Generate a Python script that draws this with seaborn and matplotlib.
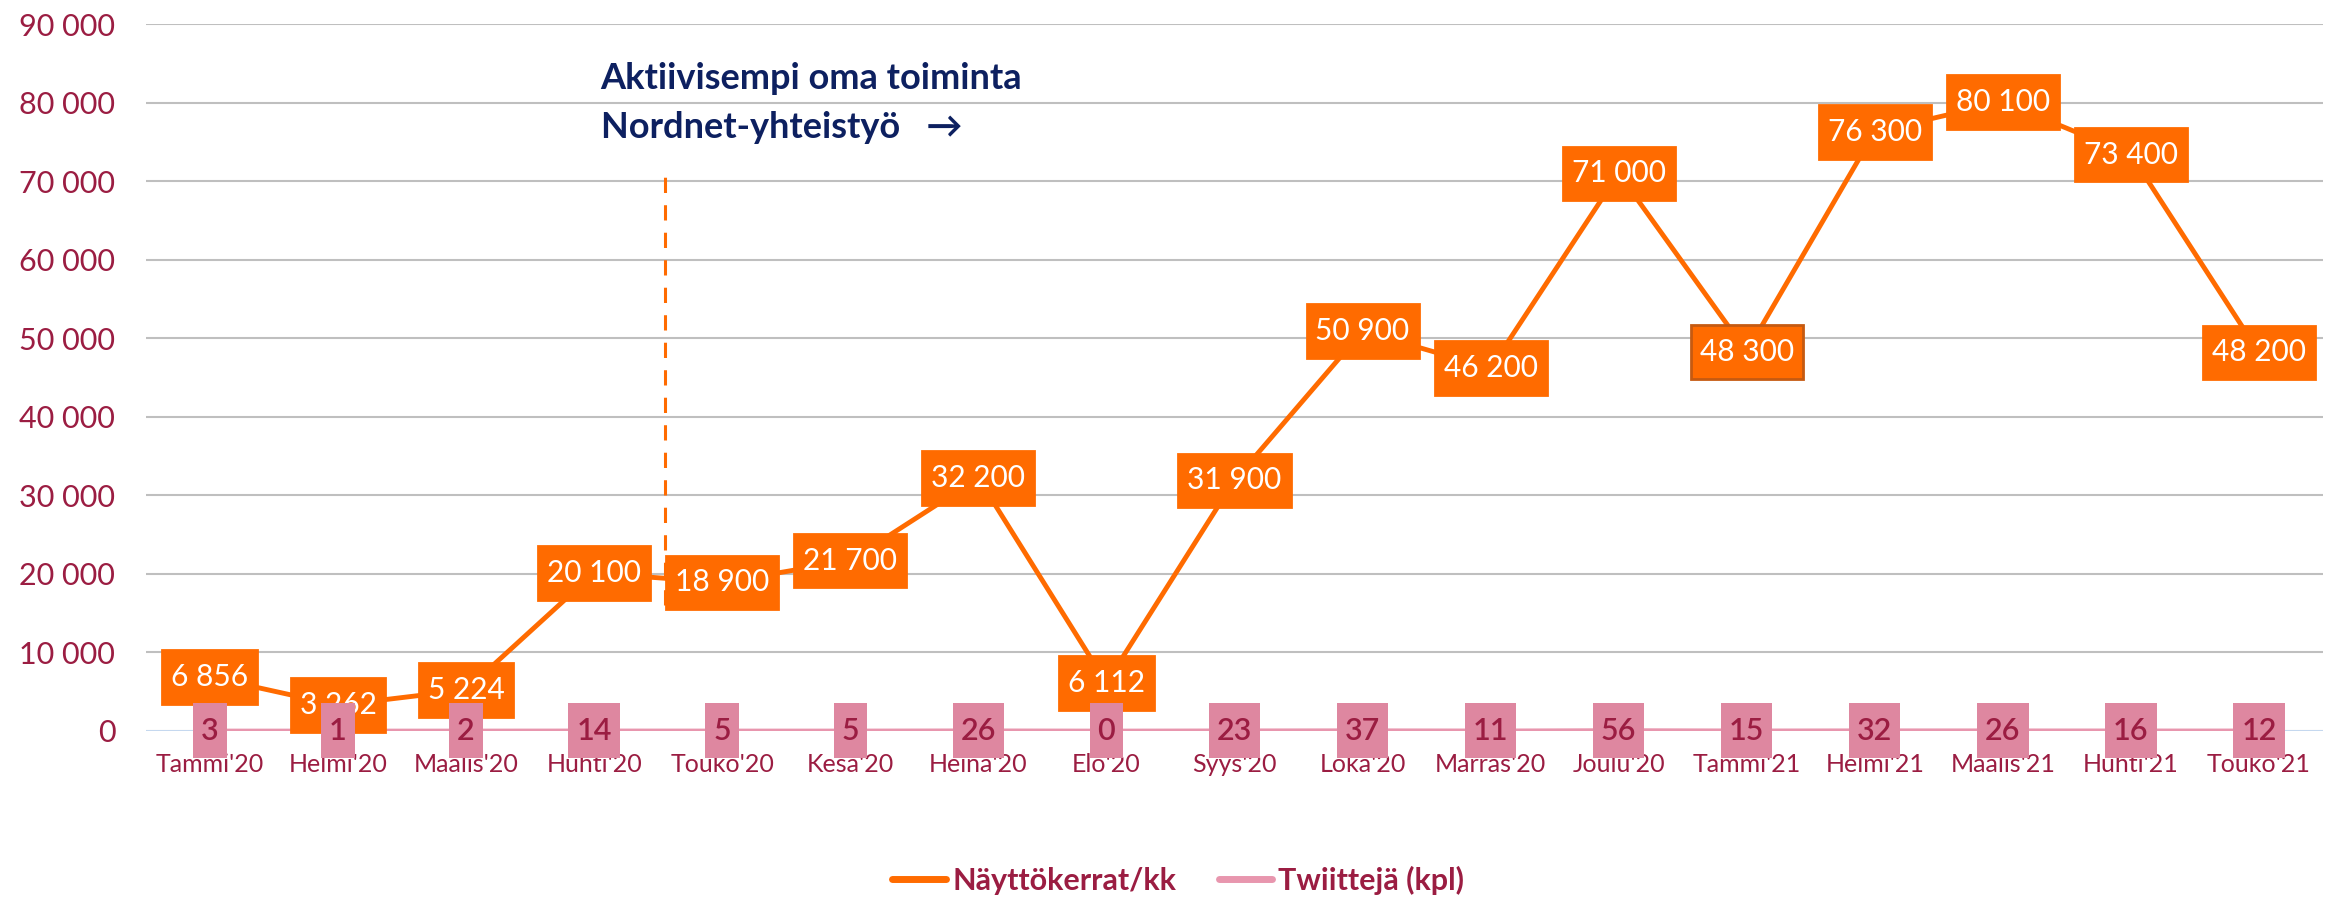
import numpy as np
import pandas as pd
import matplotlib
matplotlib.use("Agg")
import matplotlib.pyplot as plt
import seaborn as sns
from matplotlib.path import Path
from matplotlib.ticker import FuncFormatter, MultipleLocator

# data
months = ["Tammi'20", "Helmi'20", "Maalis'20", "Huhti'20", "Touko'20", "Kesä'20",
          "Heinä'20", "Elo'20", "Syys'20", "Loka'20", "Marras'20", "Joulu'20",
          "Tammi'21", "Helmi'21", "Maalis'21", "Huhti'21", "Touko'21"]
views = [6856, 3262, 5224, 20100, 18900, 21700, 32200, 6112, 31900, 50900,
         46200, 71000, 48300, 76300, 80100, 73400, 48200]
view_labels = ["6 856", "3 262", "5 224", "20 100", "18 900", "21 700", "32 200",
               "6 112", "31 900", "50 900", "46 200", "71 000", "48 300", "76 300",
               "80 100", "73 400", "48 200"]
tweets = [3, 1, 2, 14, 5, 5, 26, 0, 23, 37, 11, 56, 15, 32, 26, 16, 12]

ORANGE = "#FF6B00"
PINK_LINE = "#E896AE"
PINK_BOX = "#DE87A0"
WINE = "#9B1D42"
NAVY = "#0D2060"


def label_box(padx, height):
    # rectangle with its own horizontal pad and a fixed total height
    def box(x0, y0, width, h, mutation_size):
        px = padx * mutation_size
        hh = height * mutation_size / 2
        yc = y0 + h / 2
        verts = [(x0 - px, yc - hh), (x0 + width + px, yc - hh),
                 (x0 + width + px, yc + hh), (x0 - px, yc + hh), (x0 - px, yc - hh)]
        return Path(verts, closed=True)
    return box


df = pd.DataFrame({"kk": months, "views": views, "tweets": tweets})
df["pos"] = np.arange(len(months))

sns.set_theme(style="white")
plt.rcParams['font.family'] = ['Lato', 'DejaVu Sans']

fig, ax = plt.subplots(figsize=(23.38, 8.99), dpi=100)
fig.subplots_adjust(left=0.0624, right=0.9936, top=0.973, bottom=0.187)

ax.axhline(0, color="#C6DCF5", lw=2, zorder=1)
sns.lineplot(x="pos", y="views", data=df, color=ORANGE, lw=3.5, sort=False,
             ax=ax, label="Näyttökerrat/kk", zorder=3)
sns.lineplot(x="pos", y="tweets", data=df, color=PINK_LINE, lw=3.2, sort=False,
             ax=ax, label="Twiittejä (kpl)", zorder=4)

# dashed marker for the start of the cooperation
ax.plot([3.55, 3.55], [16000, 71500], color=ORANGE, lw=2.2, ls=(0, (5, 4)), zorder=2)
ax.text(3.05, 83100, "Aktiivisempi oma toiminta", fontsize=26, fontweight="bold",
        color=NAVY, va="center", ha="left")
ax.text(3.05, 76900, "Nordnet-yhteistyö   →", fontsize=26, fontweight="bold",
        color=NAVY, va="center", ha="left")

for i, (v, lab) in enumerate(zip(views, view_labels)):
    edge = "#C55A11" if i == 12 else ORANGE
    ax.text(i, v, lab, ha="center", va="center", fontsize=21.5, color="white", zorder=5,
            bbox=dict(boxstyle=label_box(0.3, 1.8), fc=ORANGE, ec=edge, lw=2))

for i, t in enumerate(tweets):
    ax.text(i, 0, str(t), ha="center", va="center", fontsize=22, color=WINE, zorder=6,
            fontweight="semibold",
            bbox=dict(boxstyle=label_box(0.26, 1.8), fc=PINK_BOX, ec=PINK_BOX, lw=0))

ax.set_xlim(-0.5, len(months) - 0.5)
ax.set_ylim(0, 90000)
ax.set_xticks(range(len(months)))
ax.set_xticklabels(months)
ax.yaxis.set_major_locator(MultipleLocator(10000))
ax.yaxis.set_major_formatter(FuncFormatter(lambda y, _: f"{int(y):,}".replace(",", " ")))
ax.grid(axis="y", color="#BFBFBF", lw=1.5)
ax.set_axisbelow(True)
ax.tick_params(axis="x", length=0, pad=16, labelsize=18, labelcolor=WINE)
ax.tick_params(axis="y", length=0, pad=22, labelsize=22, labelcolor=WINE)
ax.set_xlabel("")
ax.set_ylabel("")
sns.despine(left=True, bottom=True)

leg = ax.legend(loc="center", bbox_to_anchor=(0.504, 0.021), bbox_transform=fig.transFigure,
                ncol=2, frameon=False, fontsize=22, handlelength=1.75, handletextpad=0.2,
                columnspacing=1.4)
for txt in leg.get_texts():
    txt.set_color(WINE)
    txt.set_fontweight("bold")
for line in leg.get_lines():
    line.set_linewidth(5)
    line.set_solid_capstyle("round")

plt.savefig("out.png", dpi=100)
